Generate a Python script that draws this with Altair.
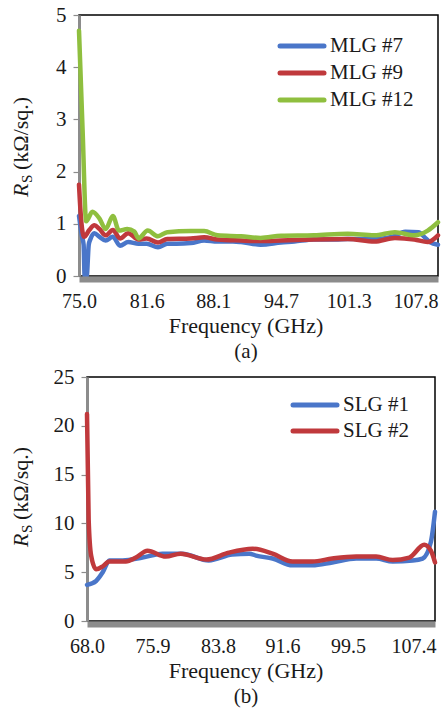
import altair as alt
import pandas as pd

# ---------------- data: panel (a) multilayer graphene ----------------
mlg_names = ["MLG #7", "MLG #9", "MLG #12"]
mlg7_freq = [75.0, 75.3, 75.45, 75.55, 75.75, 75.95, 76.1, 76.5, 77.0, 77.6, 78.3, 79.0, 79.8,
             80.8, 81.6, 82.7, 83.6, 84.5, 85.9, 87.2, 88.5, 90.0, 90.8, 92.7, 94.7, 96.0,
             97.9, 100.0, 101.2, 103.8, 105.5, 106.8, 108.1, 108.7, 109.2, 110.0]
mlg7_rs = [1.15, 0.75, 0.6, 0.0, 0.0, 0.6, 0.7, 0.82, 0.75, 0.68, 0.75, 0.58, 0.65,
           0.62, 0.62, 0.55, 0.62, 0.62, 0.63, 0.68, 0.66, 0.66, 0.65, 0.6, 0.64, 0.66,
           0.7, 0.7, 0.71, 0.71, 0.75, 0.85, 0.84, 0.74, 0.65, 0.6]
mlg9_freq = [75.0, 75.2, 75.5, 76.0, 76.5, 77.0, 77.6, 78.3, 79.0, 79.8, 80.8, 81.6, 82.7,
             83.6, 85.9, 87.2, 88.5, 90.8, 92.7, 94.7, 97.9, 101.2, 103.8, 105.8, 107.7,
             109.0, 110.0]
mlg9_rs = [1.75, 1.1, 0.75, 0.88, 0.97, 0.9, 0.78, 0.88, 0.72, 0.82, 0.7, 0.72, 0.64,
           0.71, 0.72, 0.74, 0.7, 0.68, 0.67, 0.68, 0.7, 0.71, 0.66, 0.73, 0.7,
           0.65, 0.78]
mlg12_freq = [75.0, 75.35, 75.7, 76.3, 77.0, 77.6, 78.3, 78.9, 79.7, 80.4, 80.8, 81.7,
              82.7, 83.6, 85.9, 87.2, 88.5, 90.8, 92.7, 94.7, 97.9, 101.2, 103.8, 105.8,
              107.7, 109.0, 110.0]
mlg12_rs = [4.7, 2.8, 1.05, 1.23, 1.1, 0.9, 1.15, 0.87, 0.9, 0.85, 0.72, 0.87,
            0.76, 0.84, 0.86, 0.86, 0.78, 0.76, 0.73, 0.77, 0.78, 0.81, 0.78, 0.84,
            0.78, 0.87, 1.03]
mlg_xticks = [75.0, 81.6, 88.1, 94.7, 101.3, 107.8]
mlg_yticks = [0, 1, 2, 3, 4, 5]

# ---------------- data: panel (b) single-layer graphene ----------------
slg_names = ["SLG #1", "SLG #2"]
slg1_freq = [68.0, 69.1, 69.9, 70.7, 72.3, 74.7, 77.1, 79.5, 82.7, 85.5, 87.6, 88.4,
             90.4, 92.8, 95.2, 97.6, 100.5, 102.9, 104.9, 107.3, 108.5, 109.5, 110.0]
slg1_rs = [3.7, 4.1, 5.0, 6.2, 6.2, 6.5, 6.9, 6.9, 6.2, 6.8, 6.9, 6.7,
           6.4, 5.7, 5.7, 6.0, 6.4, 6.4, 6.1, 6.2, 6.4, 8.1, 11.2]
slg2_freq = [68.0, 68.2, 68.5, 69.1, 69.9, 70.7, 72.7, 73.9, 75.3, 77.5, 79.3, 82.4,
             85.1, 88.0, 90.4, 92.8, 95.2, 97.6, 100.5, 102.9, 104.9, 106.9, 108.7,
             109.5, 110.0]
slg2_rs = [21.2, 10.4, 6.7, 5.3, 5.6, 6.1, 6.1, 6.5, 7.2, 6.6, 6.9, 6.3,
           7.0, 7.4, 6.9, 6.1, 6.1, 6.4, 6.6, 6.6, 6.25, 6.5, 7.8,
           7.2, 6.0]
slg_xticks = [68.0, 75.9, 83.8, 91.6, 99.5, 107.4]
slg_yticks = [0, 5, 10, 15, 20, 25]

FONT = "Liberation Serif, Times New Roman, serif"
TXT = "#1a1a1a"
GRAY = "#8c8c8c"
BLUE, RED, GREEN = "#4a76c9", "#c0393c", "#8fbf3f"


def long_df(names, freqs, values):
    rows = []
    for n, fs, vs in zip(names, freqs, values):
        for k, (f, v) in enumerate(zip(fs, vs)):
            rows.append({"series": n, "freq": f, "rs": v, "k": k})
    return pd.DataFrame(rows)


def label(text, x, y, size=22, angle=0, align="center", baseline="middle", style="normal"):
    return alt.Chart(pd.DataFrame({"t": [text]})).mark_text(
        font=FONT, fontSize=size, angle=angle, align=align, baseline=baseline,
        fontStyle=style, color=TXT
    ).encode(x=alt.value(x), y=alt.value(y), text="t:N")


def spacer():
    return alt.Chart(pd.DataFrame({"t": [""]})).mark_text(opacity=0).encode(
        x=alt.value(0), y=alt.value(0), text="t:N"
    ).properties(width=1, height=1, view=alt.ViewBackground(strokeOpacity=0))


def panel(names, freqs, values, colors, xdomain, xticks, ymax, yticks, w, h,
          leg_x, leg_rows, ytx, yty, title_x, letter):
    df = long_df(names, freqs, values)
    color = alt.Color("series:N", scale=alt.Scale(domain=names, range=colors), legend=None)
    x = alt.X("freq:Q", scale=alt.Scale(domain=xdomain, nice=False, zero=False),
              axis=alt.Axis(values=xticks, format=".1f", title=None, ticks=False,
                            domainColor=GRAY, domainWidth=6, offset=3, grid=False,
                            labelFont=FONT, labelFontSize=20, labelColor=TXT,
                            labelBaseline="middle", labelPadding=22, labelFlush=False,
                            zindex=1))
    y = alt.Y("rs:Q", scale=alt.Scale(domain=[0, ymax], nice=False),
              axis=alt.Axis(values=yticks, title=None, grid=False, domainColor=GRAY,
                            domainWidth=3, tickColor=GRAY, tickSize=6, tickWidth=1.2,
                            labelFont=FONT, labelFontSize=21, labelColor=TXT,
                            labelPadding=7, labelBaseline="middle"))
    lines = alt.Chart(df).mark_line(
        strokeWidth=4.5, interpolate="monotone", strokeCap="round", strokeJoin="round"
    ).encode(x=x, y=y, color=color, order="k:Q")

    leg = pd.DataFrame({"series": names})
    ly = alt.Y("series:N", scale=alt.Scale(type="point", domain=names, range=leg_rows, padding=0),
               axis=None)
    rules = alt.Chart(leg).mark_rule(strokeWidth=5, strokeCap="round").encode(
        x=alt.value(leg_x), x2=alt.value(leg_x + 44), y=ly, color=color)
    texts = alt.Chart(leg).mark_text(align="left", baseline="middle", font=FONT,
                                     fontSize=21, color=TXT).encode(
        x=alt.value(leg_x + 50), y=ly, text="series:N")

    r = label("R", ytx, yty, size=22, angle=270, align="left", baseline="alphabetic", style="italic")
    s = label("S", ytx + 4, yty - 14, size=15, angle=270, align="left", baseline="alphabetic")
    u = label("(kΩ/sq.)", ytx, yty - 27, size=22, angle=270, align="left", baseline="alphabetic")
    xt = label("Frequency (GHz)", title_x, h + 50, size=22)
    lt = label(letter, title_x, h + 76, size=21)

    return alt.layer(lines, rules, texts, r, s, u, xt, lt).resolve_scale(y="independent").properties(
        width=w, height=h)


top = panel(mlg_names, [mlg7_freq, mlg9_freq, mlg12_freq], [mlg7_rs, mlg9_rs, mlg12_rs],
            [BLUE, RED, GREEN], [75, 110], mlg_xticks, 5, mlg_yticks, 359, 261,
            201, [31, 85], -51, 182, 167, "(a)")
bottom = panel(slg_names, [slg1_freq, slg2_freq], [slg1_rs, slg2_rs],
               [BLUE, RED], [68, 110], slg_xticks, 25, slg_yticks, 348, 244,
               206, [28, 54], -59, 170, 159, "(b)")

chart = alt.vconcat(
    alt.hconcat(spacer(), top, spacing=0),
    alt.hconcat(spacer(), bottom, spacing=0),
    spacing=2,
).properties(
    padding={"left": 8, "top": 3, "right": 0, "bottom": 0},
    background="white",
).configure_view(stroke="black", strokeWidth=1.5)

chart.save("out.html", embed_options={"renderer": "svg", "actions": False})
